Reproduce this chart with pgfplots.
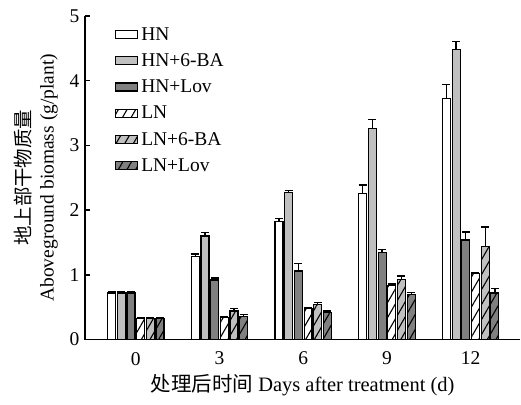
\documentclass[border=0pt]{standalone}
\usepackage{fontspec}
\setmainfont{Liberation Serif}
\newfontfamily\cjk{Noto Sans CJK SC}
\usepackage{pgfplots}
\pgfplotsset{compat=1.18}
\usetikzlibrary{patterns.meta}
\definecolor{lg}{HTML}{C0C0C0}
\definecolor{dg}{HTML}{808080}
\tikzset{hatch/.style={postaction={pattern={Lines[angle=60,distance=7.5pt,line width=1.1pt]},pattern color=black}}}
\newcommand{\fs}{\fontsize{19.5}{23}\selectfont}
\newcommand{\fx}{\fontsize{20.5}{24}\selectfont}
\begin{document}
\begin{tikzpicture}
\begin{axis}[
  scale only axis, width=436pt, height=324pt,
  xmin=-0.609, xmax=4.594, ymin=0, ymax=5,
  axis x line*=bottom, axis y line*=left,
  axis line style={line width=1.3pt},
  xtick={0,1,2,3,4}, xticklabels={0,3,6,9,12},
  major x tick style={draw=none},
  ytick={0,1,2,3,4,5}, tick align=inside, major tick length=5pt,
  major y tick style={line width=1.3pt,black},
  /pgf/number format/assume math mode=true,
  tick label style={font=\fs},
  xticklabel style={yshift=-4pt},
  yticklabel style={xshift=-2pt},
  xlabel style={font=\fx, yshift=-2pt},
  ylabel style={font=\fs, align=center},
  ylabel shift=5pt,
  xlabel={{\cjk 处理后时间} Days after treatment (d)},
  ylabel={{\cjk 地上部干物质量}\\Aboveground biomass (g/plant)},
  ybar, bar width=8pt,
  every axis plot/.append style={draw=black, line width=1.2pt},
  error bars/error bar style={line width=1.3pt, black},
  error bars/error mark options={line width=1.3pt, black, mark size=4pt, rotate=90},
  legend style={font=\fs, draw=none, fill=none, at={(0.062,0.978)}, anchor=north west, row sep=8pt, column sep=1pt},
  legend cell align=left,
  legend image code/.code={\draw[#1, line width=1.2pt] (0pt,-4pt) rectangle (22pt,4pt);},
]
\addplot[fill=white, bar shift=-24.25pt, error bars/.cd, y dir=plus, y explicit]
 coordinates {(0,0.72) +- (0,0.02) (1,1.28) +- (0,0.04) (2,1.82) +- (0,0.05) (3,2.26) +- (0,0.13) (4,3.72) +- (0,0.22)};
\addlegendentry{HN}
\addplot[fill=lg, bar shift=-14.55pt, error bars/.cd, y dir=plus, y explicit]
 coordinates {(0,0.72) +- (0,0.02) (1,1.60) +- (0,0.05) (2,2.27) +- (0,0.03) (3,3.26) +- (0,0.14) (4,4.48) +- (0,0.13)};
\addlegendentry{HN+6-BA}
\addplot[fill=dg, bar shift=-4.85pt, error bars/.cd, y dir=plus, y explicit]
 coordinates {(0,0.72) +- (0,0.02) (1,0.92) +- (0,0.03) (2,1.06) +- (0,0.12) (3,1.35) +- (0,0.04) (4,1.54) +- (0,0.12)};
\addlegendentry{HN+Lov}
\addplot[fill=white, hatch, bar shift=4.85pt, error bars/.cd, y dir=plus, y explicit]
 coordinates {(0,0.32) +- (0,0.02) (1,0.34) +- (0,0.02) (2,0.48) +- (0,0.02) (3,0.83) +- (0,0.03) (4,1.02) +- (0,0.02)};
\addlegendentry{LN}
\addplot[fill=lg, hatch, bar shift=14.55pt, error bars/.cd, y dir=plus, y explicit]
 coordinates {(0,0.32) +- (0,0.02) (1,0.44) +- (0,0.04) (2,0.54) +- (0,0.03) (3,0.93) +- (0,0.05) (4,1.44) +- (0,0.30)};
\addlegendentry{LN+6-BA}
\addplot[fill=dg, hatch, bar shift=24.25pt, error bars/.cd, y dir=plus, y explicit]
 coordinates {(0,0.32) +- (0,0.02) (1,0.36) +- (0,0.03) (2,0.42) +- (0,0.02) (3,0.70) +- (0,0.03) (4,0.72) +- (0,0.07)};
\addlegendentry{LN+Lov}
\end{axis}
\path (current axis.south west) ++(-85pt,-65pt) rectangle ([yshift=16pt]current axis.north east);
\end{tikzpicture}
\end{document}
